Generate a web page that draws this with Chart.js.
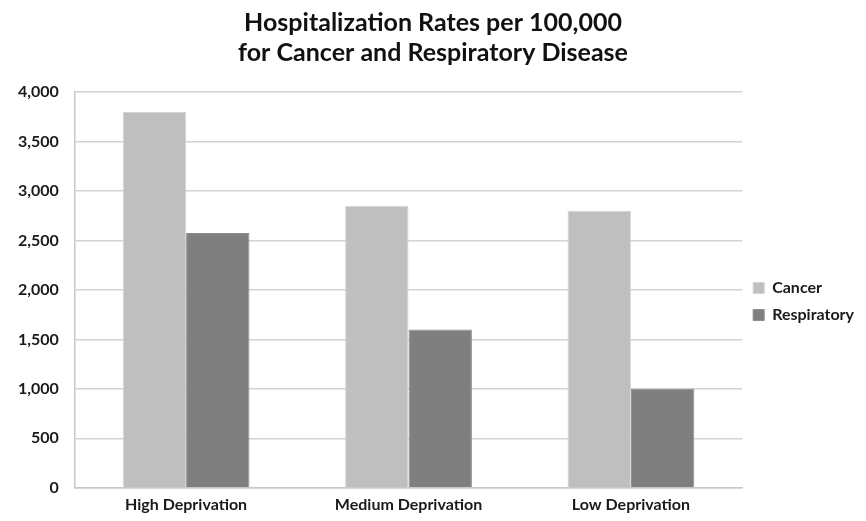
<!DOCTYPE html>
<html>
<head>
<meta charset="utf-8">
<script src="https://cdn.jsdelivr.net/npm/chart.js@4"></script>
<style>
  html, body { margin: 0; padding: 0; background: #fff; }
  #wrap { width: 866px; height: 521px; }
</style>
</head>
<body>
<div id="wrap"><canvas id="hospChart"></canvas></div>
<script>
// Data
const categories = ['High Deprivation', 'Medium Deprivation', 'Low Deprivation'];
const cancerRates = [3800, 2850, 2800];
const respiratoryRates = [2575, 1600, 1000];
const seriesNames = ['Cancer', 'Respiratory'];

Chart.defaults.font.family = 'Lato, "Open Sans", sans-serif';
Chart.defaults.color = '#1a1a1a';

const ctx = document.getElementById('hospChart').getContext('2d');
new Chart(ctx, {
    type: 'bar',
    data: {
        labels: categories,
        datasets: [
            {
                label: seriesNames[0],
                data: cancerRates,
                backgroundColor: '#bfbfbf',
                borderColor: '#d4d4d4',
                borderWidth: 1
            },
            {
                label: seriesNames[1],
                data: respiratoryRates,
                backgroundColor: '#7f7f7f',
                borderColor: '#8c8c8c',
                borderWidth: 1
            }
        ]
    },
    options: {
        responsive: true,
        maintainAspectRatio: false,
        animation: false,
        layout: { padding: { left: 2, right: 2, top: 2, bottom: 0 } },
        datasets: {
            bar: { barPercentage: 1.0, categoryPercentage: 0.57 }
        },
        plugins: {
            title: {
                display: true,
                text: ['Hospitalization Rates per 100,000', 'for Cancer and Respiratory Disease'],
                font: { size: 25, weight: 'bold' },
                color: '#111',
                padding: { top: 6, bottom: 24 },
                lineHeight: 1.2
            },
            legend: {
                position: 'right',
                align: 'center',
                title: {
                    // empty spacer so the items sit a little lower, as in the original
                    display: true,
                    text: ' ',
                    font: { size: 10 },
                    padding: { top: 0, bottom: 68 }
                },
                labels: {
                    boxWidth: 11,
                    boxHeight: 11,
                    padding: 11,
                    font: { size: 16, weight: 'bold' },
                    color: '#1a1a1a'
                }
            },
            tooltip: { enabled: false }
        },
        scales: {
            x: {
                grid: { display: false, drawTicks: false },
                border: { display: true, color: '#c8c8c8', width: 1.5 },
                ticks: { font: { size: 16, weight: 'bold' }, padding: 7 }
            },
            y: {
                min: 0,
                max: 4000,
                ticks: {
                    stepSize: 500,
                    font: { size: 16, weight: 'bold' },
                    padding: 16,
                    callback: v => v.toLocaleString('en-US')
                },
                grid: { color: '#d3d3d3', lineWidth: 1.5, drawTicks: false },
                border: { display: true, color: '#c8c8c8', width: 1.5 }
            }
        }
    }
});
</script>
</body>
</html>
